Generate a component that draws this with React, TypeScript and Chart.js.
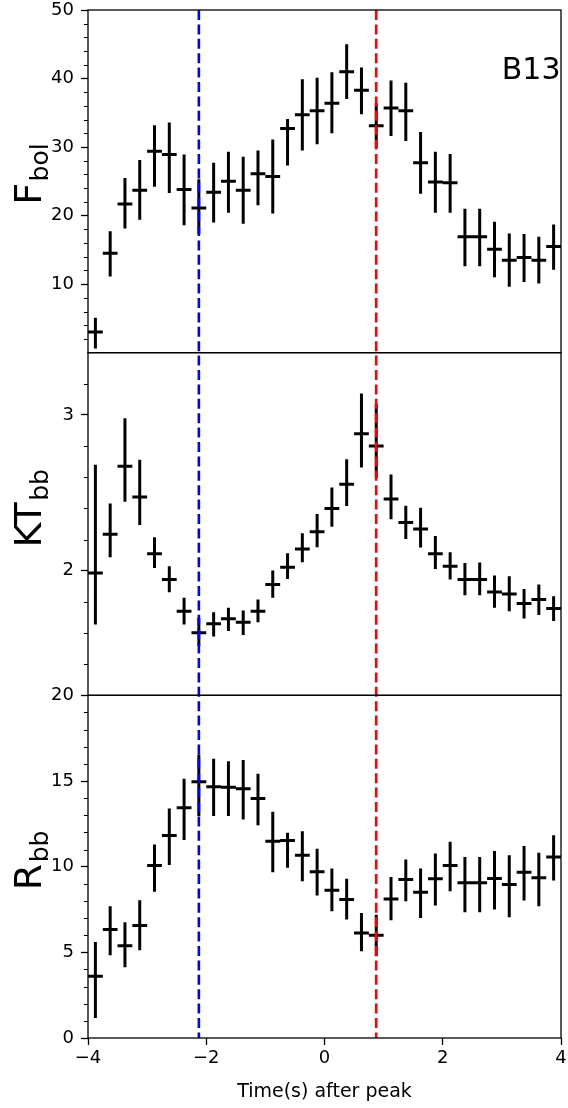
import { useEffect, useRef } from 'react';
import { Chart, registerables } from 'chart.js';

Chart.register(...registerables);

// ---------- data ----------
const TIMES = [
  -3.875, -3.625, -3.375, -3.125, -2.875, -2.625, -2.375, -2.125,
  -1.875, -1.625, -1.375, -1.125, -0.875, -0.625, -0.375, -0.125,
  0.125, 0.375, 0.625, 0.875, 1.125, 1.375, 1.625, 1.875,
  2.125, 2.375, 2.625, 2.875, 3.125, 3.375, 3.625, 3.875,
];
const HALF_BIN = 0.125;

const F_BOL = [3.0, 14.5, 21.7, 23.7, 29.4, 28.9, 23.8, 21.1, 23.4, 25.0, 23.7, 26.1, 25.7, 32.7, 34.7, 35.3,
  36.4, 41.0, 38.3, 33.1, 35.7, 35.3, 27.7, 24.9, 24.8, 16.9, 16.9, 15.1, 13.5, 13.9, 13.5, 15.5];
const F_BOL_LO = [0.6, 11.1, 18.1, 19.4, 24.2, 23.3, 18.6, 17.3, 19.0, 20.4, 18.8, 21.5, 20.3, 27.3, 29.5, 30.4,
  32.0, 37.0, 34.8, 29.9, 31.6, 30.9, 23.2, 20.4, 20.4, 12.6, 12.6, 11.0, 9.6, 10.3, 10.1, 12.1];
const F_BOL_HI = [5.1, 17.7, 25.5, 28.1, 33.2, 33.6, 28.9, 25.3, 27.7, 29.3, 28.6, 29.5, 31.1, 34.1, 39.9, 40.1,
  40.9, 45.0, 41.6, 36.4, 39.7, 39.4, 32.2, 29.3, 29.0, 21.0, 21.0, 19.1, 17.4, 17.3, 16.9, 18.7];

const KT_BB = [1.985, 2.234, 2.67, 2.474, 2.109, 1.943, 1.74, 1.602, 1.66, 1.691, 1.67, 1.74, 1.911, 2.023, 2.14, 2.251,
  2.4, 2.555, 2.879, 2.8, 2.46, 2.309, 2.268, 2.109, 2.028, 1.943, 1.943, 1.864, 1.851, 1.789, 1.815, 1.757];
const KT_BB_LO = [1.655, 2.087, 2.443, 2.294, 2.017, 1.862, 1.655, 1.517, 1.577, 1.613, 1.587, 1.67, 1.826, 1.947, 2.055, 2.151,
  2.283, 2.415, 2.662, 2.596, 2.33, 2.204, 2.149, 2.011, 1.943, 1.843, 1.843, 1.762, 1.74, 1.694, 1.715, 1.677];
const KT_BB_HI = [2.68, 2.432, 2.979, 2.713, 2.215, 2.028, 1.826, 1.698, 1.734, 1.762, 1.745, 1.815, 2.002, 2.113, 2.24, 2.364,
  2.534, 2.715, 3.138, 3.07, 2.617, 2.417, 2.404, 2.223, 2.119, 2.049, 2.053, 1.97, 1.964, 1.883, 1.911, 1.836];

const R_BB = [3.6, 6.33, 5.39, 6.56, 10.07, 11.82, 13.44, 14.96, 14.66, 14.64, 14.55, 13.98, 11.49, 11.53, 10.67, 9.7,
  8.63, 8.08, 6.13, 6.0, 8.12, 9.25, 8.51, 9.29, 10.07, 9.06, 9.06, 9.31, 8.96, 9.68, 9.35, 10.57];
const R_BB_LO = [1.17, 4.83, 4.13, 5.12, 8.53, 10.09, 11.55, 12.95, 12.95, 12.95, 12.76, 12.42, 9.68, 9.93, 9.15, 8.32,
  7.4, 6.91, 5.06, 4.77, 6.87, 7.98, 7.01, 7.73, 8.57, 7.34, 7.34, 7.5, 7.05, 8.02, 7.69, 9.19];
const R_BB_HI = [5.61, 7.69, 6.76, 8.04, 11.3, 13.4, 15.13, 16.55, 16.3, 16.16, 16.22, 15.42, 13.2, 11.98, 12.07, 11.04,
  9.89, 9.29, 7.3, 7.2, 9.39, 10.42, 9.89, 10.77, 11.45, 10.57, 10.57, 10.91, 10.67, 11.2, 10.81, 11.84];

const MARKER_BLUE = -2.125;
const MARKER_RED = 0.875;

const X_TICKS = [-4, -2, 0, 2, 4];
const F_TICKS = [10, 20, 30, 40, 50];
const F_MINOR = [2, 4, 6, 8, 12, 14, 16, 18, 22, 24, 26, 28, 32, 34, 36, 38, 42, 44, 46, 48];
const KT_TICKS = [2, 3];
const KT_MINOR = [1.4, 1.6, 1.8, 2.2, 2.4, 2.6, 2.8, 3.2];
const R_TICKS = [0, 5, 10, 15, 20];
const R_MINOR = [1, 2, 3, 4, 6, 7, 8, 9, 11, 12, 13, 14, 16, 17, 18, 19];

const PANEL_TEXT = 'B13';
const X_TITLE = 'Time(s) after peak';

const FONT = '"DejaVu Sans", "Liberation Sans", sans-serif';

const PANELS = [
  { id: 'yF', main: 'F', sub: 'bol', val: F_BOL, lo: F_BOL_LO, hi: F_BOL_HI, min: 0, max: 50, ticks: F_TICKS, minor: F_MINOR, weight: 3 },
  { id: 'yK', main: 'KT', sub: 'bb', val: KT_BB, lo: KT_BB_LO, hi: KT_BB_HI, min: 1.2, max: 3.4, ticks: KT_TICKS, minor: KT_MINOR, weight: 2 },
  { id: 'yR', main: 'R', sub: 'bb', val: R_BB, lo: R_BB_LO, hi: R_BB_HI, min: 0, max: 20, ticks: R_TICKS, minor: R_MINOR, weight: 1 },
];

function verticalBars(lo: number[], hi: number[]) {
  const out: any[] = [];
  TIMES.forEach((t, i) => {
    out.push({ x: t, y: lo[i] }, { x: t, y: hi[i] }, { x: t, y: null });
  });
  return out;
}
function horizontalBars(val: number[]) {
  const out: any[] = [];
  TIMES.forEach((t, i) => {
    out.push({ x: t - HALF_BIN, y: val[i] }, { x: t + HALF_BIN, y: val[i] }, { x: t + HALF_BIN, y: null });
  });
  return out;
}

function zeroPadding(s: any) {
  s.paddingTop = 0;
  s.paddingBottom = 0;
  s.paddingLeft = 0;
  s.paddingRight = 0;
}

const decorPlugin = {
  id: 'decor',
  afterDatasetsDraw(chart: any) {
    const ctx = chart.ctx;
    const area = chart.chartArea;
    const xs = chart.scales.x;
    ctx.save();
    // dashed markers
    ctx.lineWidth = 2.6;
    ctx.setLineDash([10, 4.4]);
    [[MARKER_BLUE, '#0000ff'], [MARKER_RED, '#ff0000']].forEach(([v, c]: any) => {
      const px = xs.getPixelForValue(v);
      ctx.strokeStyle = c;
      ctx.beginPath();
      ctx.moveTo(px, area.top);
      ctx.lineTo(px, area.bottom);
      ctx.stroke();
    });
    ctx.setLineDash([]);
    // frames, minor ticks, labels
    ctx.strokeStyle = '#000';
    ctx.fillStyle = '#000';
    PANELS.forEach((p) => {
      const s = chart.scales[p.id];
      ctx.lineWidth = 1.3;
      ctx.strokeRect(area.left, s.top, area.right - area.left, s.bottom - s.top);
      ctx.lineWidth = 1;
      p.minor.forEach((v) => {
        const py = Math.round(s.getPixelForValue(v)) + 0.5;
        ctx.beginPath();
        ctx.moveTo(area.left - 4, py);
        ctx.lineTo(area.left, py);
        ctx.stroke();
      });
      const cy = (s.top + s.bottom) / 2;
      ctx.save();
      ctx.translate(41, cy + 23.5);
      ctx.rotate(-Math.PI / 2);
      ctx.textAlign = 'left';
      ctx.textBaseline = 'alphabetic';
      ctx.font = `38px ${FONT}`;
      ctx.fillText(p.main, 0, 0);
      const w = ctx.measureText(p.main).width;
      ctx.font = `25px ${FONT}`;
      ctx.fillText(p.sub, w + 1.5, 6.5);
      ctx.restore();
    });
    const sF = chart.scales.yF;
    ctx.font = `30px ${FONT}`;
    ctx.textAlign = 'right';
    ctx.textBaseline = 'alphabetic';
    ctx.fillText(PANEL_TEXT, area.right - 0.5, sF.top + 69);
    ctx.restore();
  },
};

export default function App() {
  const ref = useRef<HTMLCanvasElement | null>(null);
  useEffect(() => {
    document.body.style.margin = '0';
    const canvas = ref.current;
    if (!canvas) return;

    const datasets: any[] = [];
    PANELS.forEach((p) => {
      datasets.push({
        data: verticalBars(p.lo, p.hi), yAxisID: p.id, xAxisID: 'x',
        showLine: true, spanGaps: false, pointRadius: 0, borderColor: '#000', borderWidth: 3, borderCapStyle: 'butt',
      });
      datasets.push({
        data: horizontalBars(p.val), yAxisID: p.id, xAxisID: 'x',
        showLine: true, spanGaps: false, pointRadius: 0, borderColor: '#000', borderWidth: 3, borderCapStyle: 'butt',
      });
    });

    const tickFont = { family: FONT, size: 18, lineHeight: 1 };
    const scales: any = {
      x: {
        type: 'linear', position: 'bottom', min: -4, max: 4,
        afterBuildTicks: (s: any) => { s.ticks = X_TICKS.map((v) => ({ value: v })); },
        afterFit: (s: any) => { s.height = 70; zeroPadding(s); },
        ticks: {
          font: tickFont, color: '#000', padding: 4, maxRotation: 0, autoSkip: false,
          callback: (v: number) => (v < 0 ? '\u2212' + Math.abs(v) : String(v)),
        },
        grid: { display: true, drawOnChartArea: false, drawTicks: true, tickLength: 7, tickWidth: 1.3, tickColor: '#000' },
        border: { display: false },
        title: { display: true, text: X_TITLE, color: '#000', font: { family: FONT, size: 19 }, padding: { top: 0, bottom: 5 } },
      },
    };
    PANELS.forEach((p) => {
      scales[p.id] = {
        type: 'linear', position: 'left', stack: 'panels', stackWeight: 1, weight: p.weight,
        min: p.min, max: p.max,
        afterBuildTicks: (s: any) => { s.ticks = p.ticks.map((v) => ({ value: v })); },
        afterFit: (s: any) => { s.width = 88; zeroPadding(s); },
        ticks: { font: tickFont, color: '#000', padding: 7, autoSkip: false, callback: (v: number) => String(v) },
        grid: { display: true, drawOnChartArea: false, drawTicks: true, tickLength: 7, tickWidth: 1.3, tickColor: '#000' },
        border: { display: false },
      };
    });

    const chart = new Chart(canvas, {
      type: 'scatter',
      data: { datasets },
      options: {
        animation: false,
        responsive: false,
        events: [],
        layout: { padding: { top: 10, right: 7, left: 0, bottom: 0 } },
        plugins: { legend: { display: false }, tooltip: { enabled: false } },
        scales,
      },
      plugins: [decorPlugin],
    } as any);
    return () => chart.destroy();
  }, []);

  return (
    <div style={{ width: 568, height: 1108, background: '#fff' }}>
      <canvas ref={ref} width={568} height={1108} style={{ display: 'block', width: 568, height: 1108 }} />
    </div>
  );
}
